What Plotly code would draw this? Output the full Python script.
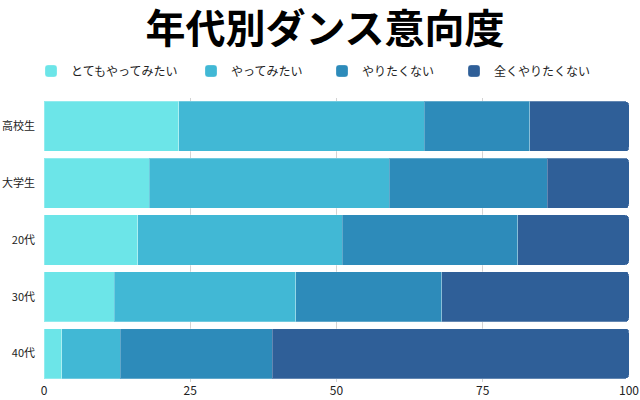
import plotly.graph_objects as go

categories = ["高校生", "大学生", "20代", "30代", "40代"]
series_names = ["とてもやってみたい", "やってみたい", "やりたくない", "全くやりたくない"]
very_want = [23, 18, 16, 12, 3]
want = [42, 41, 35, 31, 10]
not_want = [18, 27, 30, 25, 26]
never_want = [17, 14, 19, 32, 61]
series_values = [very_want, want, not_want, never_want]
colors = ["#6CE5E8", "#41B8D5", "#2D8BBA", "#2F5F98"]
x_ticks = [0, 25, 50, 75, 100]

FONT = "Noto Sans CJK JP"
legend_ids = ["legend2", "legend3", "legend4", "legend5"]
legend_x = [31, 191, 322, 454]  # left edge of each legend entry, px

fig = go.Figure()
for name, vals, col, lid in zip(series_names, series_values, colors, legend_ids):
    fig.add_trace(go.Bar(
        y=categories, x=vals, name=name, orientation="h", legend=lid,
        marker=dict(color=col, line=dict(color="rgba(255,255,255,0.25)", width=1)),
    ))

layout_legends = {}
for lid, lx in zip(legend_ids, legend_x):
    layout_legends[lid] = dict(
        xref="container", yref="container", x=lx / 640, xanchor="left",
        y=1 - 71 / 400, yanchor="middle", orientation="h",
        font=dict(family=FONT, size=12, color="#222222"), itemwidth=30,
        bgcolor="rgba(0,0,0,0)", borderwidth=0,
    )

fig.update_layout(
    width=640, height=400,
    barmode="stack", bargap=0.118, barcornerradius=4,
    paper_bgcolor="white", plot_bgcolor="white",
    margin=dict(l=44, r=11, t=98, b=18),
    title=dict(text="<b>年代別ダンス意向度</b>", xref="container", yref="container",
               x=325 / 640, xanchor="center", y=1 - 29 / 400, yanchor="middle",
               font=dict(family=FONT, size=40, color="#000000")),
    font=dict(family=FONT, color="#222222"),
    **layout_legends,
)
fig.update_xaxes(range=[0, 100], tickvals=x_ticks, showgrid=True, gridcolor="#D3D3D3",
                 gridwidth=1, zeroline=False, showline=False, ticks="", automargin=False,
                 tickfont=dict(family=FONT, size=12, color="#222222"))
fig.update_yaxes(autorange="reversed", showgrid=False, ticks="", ticklen=0,
                 automargin=False, ticklabelstandoff=8,
                 tickfont=dict(family=FONT, size=11, color="#222222"))

fig.write_html("out.html", config={"displayModeBar": False},
               post_script="document.body.style.margin='0';")
